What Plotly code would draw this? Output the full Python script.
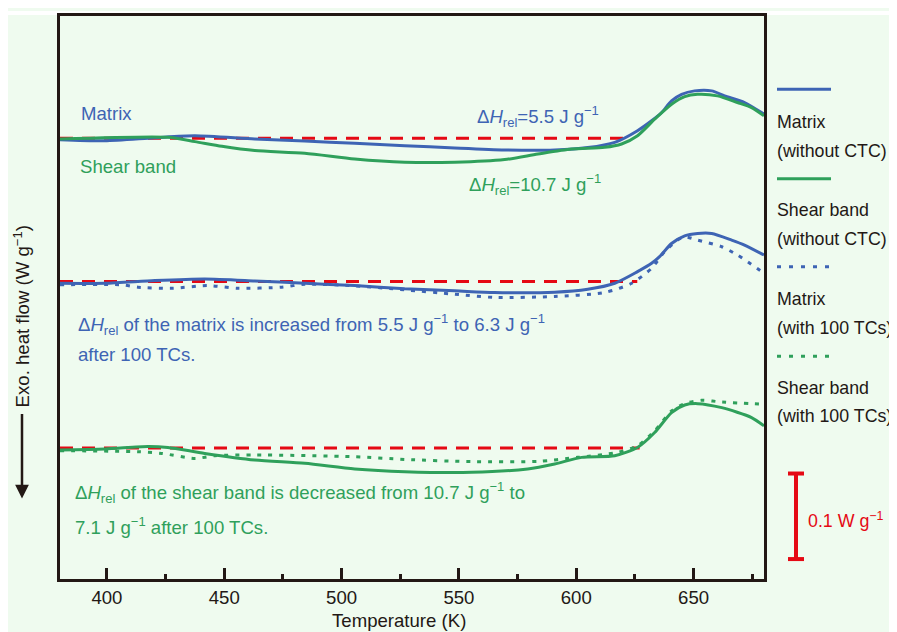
import plotly.graph_objects as go

# ---------------- data (temperature in K, heat flow relative to each baseline in W/g) -------------
T_top_matrix = [380, 399.1, 420.4, 437.5, 463, 484.3, 505.6, 526.9, 548.2, 569.5, 590.8, 604.9,
                616.4, 626.1, 632.1, 636.4, 640.6, 644.9, 650.4, 657.7, 663.2, 671.7, 680]
H_top_matrix = [-0.0015, -0.0027, 0.0008, 0.0031, -0.0008, -0.0031, -0.0058, -0.0085, -0.0113,
                -0.0136, -0.0136, -0.0108, -0.0047, 0.0090, 0.0206, 0.0302, 0.0438, 0.0515,
                0.0555, 0.0555, 0.0497, 0.0419, 0.0283]

T_top_shear = [380, 426, 437.5, 449, 463, 484.3, 505.6, 526.9, 548.2, 569.5, 583.6, 598, 612.1,
               619.3, 626.1, 633.4, 640.6, 646.2, 651.7, 660.2, 668.7, 674.7, 680]
H_top_shear = [-0.0008, 0.0012, -0.0038, -0.0093, -0.0143, -0.0174, -0.0241, -0.0279, -0.0279,
               -0.0248, -0.0183, -0.0124, -0.0105, -0.0066, 0.0031, 0.0224, 0.0399, 0.0488,
               0.0515, 0.0497, 0.0419, 0.0360, 0.0264]

T_mid_matrix = [380, 399.1, 420.4, 441.7, 463, 484.3, 505.6, 526.9, 548.2, 565.2, 590.8, 604.9,
                616.4, 626.1, 632.1, 635.5, 640.6, 646.2, 651.7, 657.7, 666.2, 671.7, 680]
H_mid_matrix = [-0.0020, -0.0020, 0.0012, 0.0031, 0.0008, -0.0020, -0.0047, -0.0085, -0.0108,
                -0.0128, -0.0124, -0.0090, -0.0020, 0.0116, 0.0213, 0.0291, 0.0445, 0.0535,
                0.0562, 0.0562, 0.0485, 0.0427, 0.0310]

T_mid_matrix_tc = [380, 406.4, 413.2, 427.7, 443, 455.8, 474.5, 484.3, 505.6, 526.9, 548.2, 565.2,
                   590.8, 612.1, 623.6, 632.1, 637.6, 643.2, 646.2, 651.7, 662, 668.7, 680]
H_mid_matrix_tc = [-0.0038, -0.0038, -0.0066, -0.0078, -0.0047, -0.0078, -0.0066, -0.0031, -0.0050,
                   -0.0097, -0.0148, -0.0186, -0.0174, -0.0128, -0.0020, 0.0155, 0.0349, 0.0485,
                   0.0523, 0.0485, 0.0407, 0.0310, 0.0097]

T_bot_shear = [380, 399.1, 417.5, 426, 441.7, 463, 484.3, 505.6, 526.9, 555.4, 579.3, 590.8, 602.3,
               616.4, 626.1, 633.4, 640.6, 646.2, 651.7, 662, 674.7, 680]
H_bot_shear = [-0.0023, -0.0012, 0.0019, 0.0007, -0.0063, -0.0140, -0.0179, -0.0244, -0.0276,
               -0.0284, -0.0244, -0.0186, -0.0109, -0.0090, 0.0007, 0.0181, 0.0414, 0.0503,
               0.0519, 0.0472, 0.0356, 0.0259]

T_bot_shear_tc = [380, 413.2, 423.4, 437.5, 446, 463, 505.6, 526.9, 555.4, 583.6, 600.6, 617.6,
                  626.1, 633.4, 640.6, 646.2, 653.4, 662, 680]
H_bot_shear_tc = [-0.0031, -0.0043, -0.0063, -0.0121, -0.0090, -0.0081, -0.0101, -0.0133, -0.0159,
                  -0.0156, -0.0109, -0.0051, 0.0027, 0.0201, 0.0434, 0.0519, 0.0558, 0.0538, 0.0512]

# vertical offsets of the three groups (W/g) and the baseline end temperatures (K)
offsets = [0.5151, 0.3477, 0.1531]
baseline_start = 380
baseline_end = [620, 626, 627]

x_ticks = [400, 450, 500, 550, 600, 650]
scale_bar_value = 0.1
scale_bar_bottom = 0.0233

# ---------------- style -------------
BLUE = "#3E64B4"
GREEN = "#2FA05B"
RED = "#E50914"
DARK = "#231815"
BG = "#EFFBEF"
FONT = "Arial, Liberation Sans, Helvetica, sans-serif"
FS = 18.6
FS_LEG = 17.8

OX, OY = 8, 8          # page margin of the browser body
W, H = 889, 624
ML, MR, MT, MB = 52, 133, 5, 53
PW, PH = W - ML - MR, H - MT - MB


def px2x(px):
    return (px - OX - ML) / PW


def py2y(py):
    return 1 - (py - OY - MT) / PH


fig = go.Figure()

# red baselines
for off, te in zip(offsets, baseline_end):
    fig.add_trace(go.Scatter(x=[baseline_start, te], y=[off, off], mode="lines",
                             line=dict(color=RED, width=3, dash="13px,9px"),
                             showlegend=False, hoverinfo="skip"))

series = [
    (T_top_matrix, H_top_matrix, offsets[0], BLUE, "solid"),
    (T_top_shear, H_top_shear, offsets[0], GREEN, "solid"),
    (T_mid_matrix_tc, H_mid_matrix_tc, offsets[1], BLUE, "4px,7px"),
    (T_mid_matrix, H_mid_matrix, offsets[1], BLUE, "solid"),
    (T_bot_shear_tc, H_bot_shear_tc, offsets[2], GREEN, "4px,7px"),
    (T_bot_shear, H_bot_shear, offsets[2], GREEN, "solid"),
]
for tx, hy, off, col, dash in series:
    fig.add_trace(go.Scatter(x=tx, y=[off + v for v in hy], mode="lines",
                             line=dict(color=col, width=3, dash=dash, shape="spline", smoothing=0.7),
                             showlegend=False, hoverinfo="skip"))

shapes = []
# white strip above the light-green panel
shapes.append(dict(type="rect", xref="paper", yref="paper", x0=px2x(OX), x1=px2x(OX + W), y0=py2y(12),
                   y1=py2y(OY), fillcolor="white", line=dict(width=0), layer="below"))

# legend samples
leg_x0, leg_x1 = px2x(777), px2x(831)
legend_lines = [(86.7, BLUE, "solid"), (176.7, GREEN, "solid"), (265, BLUE, "4px,8px"), (355, GREEN, "4px,8px")]
for py, col, dash in legend_lines:
    shapes.append(dict(type="line", xref="paper", yref="paper", x0=leg_x0, x1=leg_x1, y0=py2y(py), y1=py2y(py),
                       line=dict(color=col, width=3, dash=dash)))

# scale bar
sb_x, sb_c0, sb_c1 = px2x(796), px2x(788), px2x(804)
sb_y0, sb_y1 = scale_bar_bottom, scale_bar_bottom + scale_bar_value
shapes.append(dict(type="line", xref="paper", yref="y", x0=sb_x, x1=sb_x, y0=sb_y0, y1=sb_y1,
                   line=dict(color=RED, width=4)))
for yy in (sb_y0, sb_y1):
    shapes.append(dict(type="line", xref="paper", yref="y", x0=sb_c0, x1=sb_c1, y0=yy, y1=yy,
                       line=dict(color=RED, width=4)))

ann = []


def text(px, py, s, color, size=FS, anchor="left"):
    ann.append(dict(x=px2x(px), y=py2y(py), xref="paper", yref="paper", text=s, showarrow=False,
                    xanchor=anchor, yanchor="middle", font=dict(family=FONT, size=size, color=color)))


DH = "Δ<i>H</i><sub>rel</sub>"
text(79, 111, "Matrix", BLUE)
text(78, 164, "Shear band", GREEN)
text(475, 114, DH + "=5.5 J g<sup>−1</sup>", BLUE)
text(467, 182, DH + "=10.7 J g<sup>−1</sup>", GREEN)
text(76, 323, DH + " of the matrix is increased from 5.5 J g<sup>−1</sup> to 6.3 J g<sup>−1</sup>", BLUE)
text(76, 353, "after 100 TCs.", BLUE)
text(73, 492, DH + " of the shear band is decreased from 10.7 J g<sup>−1</sup> to", GREEN)
text(73, 526, "7.1 J g<sup>−1</sup> after 100 TCs.", GREEN)

# legend texts
for py, s in [(119.3, "Matrix"), (148.3, "(without CTC)"), (208.3, "Shear band"), (236.7, "(without CTC)"),
              (297.3, "Matrix"), (326.7, "(with 100 TCs)"), (386.7, "Shear band"), (415, "(with 100 TCs)")]:
    text(775, py, s, DARK, size=FS_LEG)

text(806, 520, "0.1 W g<sup>−1</sup>", RED, size=FS_LEG)

# axis titles
text(399, 621, "Temperature (K)", DARK, anchor="center")
ann.append(dict(x=px2x(22), y=py2y(315), xref="paper", yref="paper", text="Exo. heat flow (W g<sup>−1</sup>)",
                showarrow=False, textangle=-90, xanchor="center", yanchor="middle",
                font=dict(family=FONT, size=FS, color=DARK)))
# downward arrow
ann.append(dict(x=px2x(22), y=py2y(498), xref="paper", yref="paper", text="", showarrow=True,
                ax=0, ay=-86, axref="pixel", ayref="pixel", arrowhead=2, arrowsize=1.1, arrowwidth=2.5,
                arrowcolor=DARK, standoff=0))

fig.update_layout(
    width=W, height=H,
    margin=dict(l=ML, r=MR, t=MT, b=MB, pad=0),
    paper_bgcolor=BG, plot_bgcolor=BG,
    shapes=shapes, annotations=ann,
    font=dict(family=FONT, size=FS, color=DARK),
    xaxis=dict(range=[380, 680], tickvals=x_ticks, ticks="inside", ticklen=11, tickwidth=2.5, tickcolor=DARK,
               showline=True, linewidth=2.5, linecolor=DARK, mirror=True, showgrid=False, zeroline=False,
               tickfont=dict(family=FONT, size=FS, color=DARK),
               minor=dict(ticks="inside", ticklen=5, tickwidth=2.5, tickcolor=DARK, dtick=25, tick0=375)),
    yaxis=dict(range=[0, PH / 860], showticklabels=False, ticks="", showline=True, linewidth=2.5,
               linecolor=DARK, mirror=True, showgrid=False, zeroline=False),
)

fig.write_html("out.html")
